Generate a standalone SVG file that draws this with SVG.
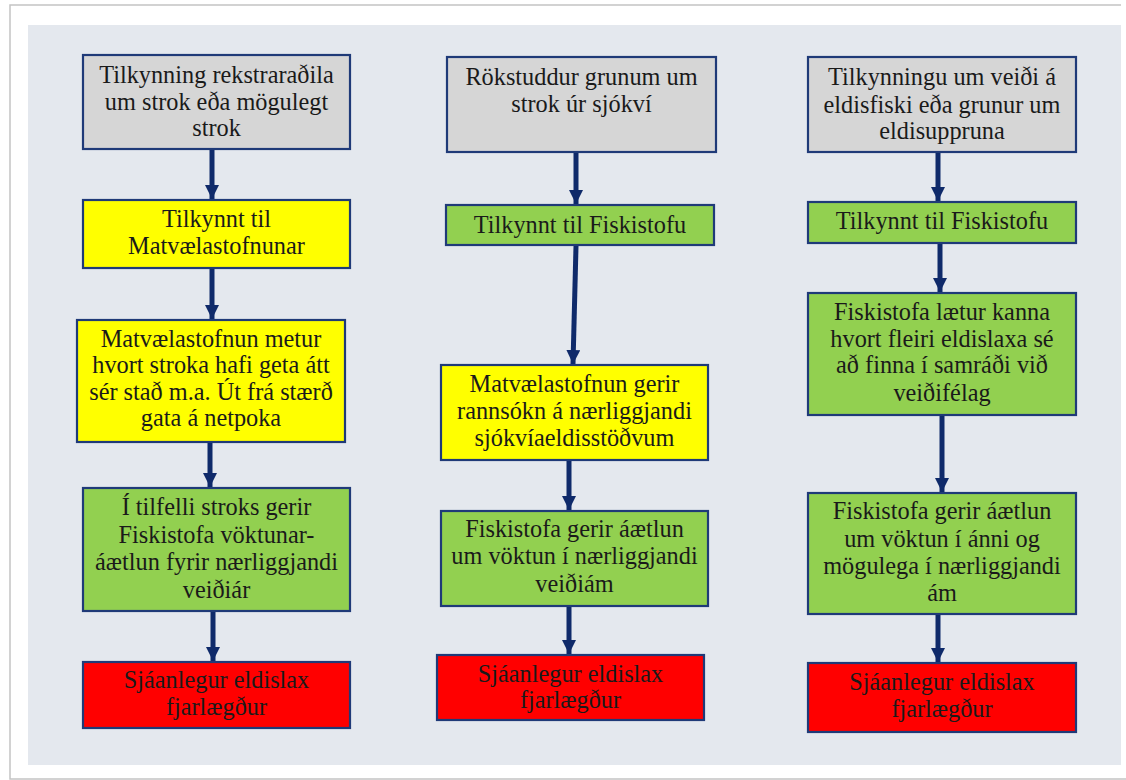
<svg xmlns="http://www.w3.org/2000/svg" width="1126" height="780" viewBox="0 0 1126 780">
<style>
.box{stroke:#1f3a78;stroke-width:2.2}
.gray{fill:#d6d6d6}
.yel{fill:#ffff00}
.grn{fill:#92d050}
.red{fill:#ff0000}
text{font-family:"Liberation Serif","Times New Roman",serif;font-size:24.3px;fill:#1a1a1a;text-anchor:middle}
.conn line{stroke:#0f2a6a;stroke-width:5;marker-end:url(#ah)}
</style>
<defs>
<marker id="ah" markerUnits="userSpaceOnUse" markerWidth="16" markerHeight="14" refX="14" refY="7" orient="auto">
<path d="M0,0 L14,7 L0,14 Z" fill="#0f2a6a"/>
</marker>
</defs>
<rect x="0" y="0" width="1126" height="780" fill="#ffffff"/>
<path d="M1121,5 L10,5 L10,779 L1126,779" fill="none" stroke="#c4c4c4" stroke-width="1.5"/>
<rect x="28" y="25" width="1093" height="740" fill="#e4e8ee"/>

<g id="c1b1"><rect class="box gray" x="83" y="55" width="267" height="94"/>
<text x="216.5" y="83">Tilkynning rekstraraðila</text><text x="216.5" y="110">um strok eða mögulegt</text><text x="216.5" y="136">strok</text></g>
<g id="c1b2"><rect class="box yel" x="83" y="200" width="267" height="68"/>
<text x="216.5" y="227">Tilkynnt til</text><text x="216.5" y="254">Matvælastofnunar</text></g>
<g id="c1b3"><rect class="box yel" x="77" y="320" width="268" height="122"/>
<text x="211" y="347">Matvælastofnun metur</text><text x="211" y="373">hvort stroka hafi geta átt</text><text x="211" y="400">sér stað m.a. Út frá stærð</text><text x="211" y="426">gata á netpoka</text></g>
<g id="c1b4"><rect class="box grn" x="83" y="488" width="267" height="123"/>
<text x="216.5" y="515">Í tilfelli stroks gerir</text><text x="216.5" y="543">Fiskistofa vöktunar-</text><text x="216.5" y="570">áætlun fyrir nærliggjandi</text><text x="216.5" y="598">veiðiár</text></g>
<g id="c1b5"><rect class="box red" x="83" y="662" width="267" height="66"/>
<text x="216.5" y="688">Sjáanlegur eldislax</text><text x="216.5" y="715">fjarlægður</text></g>

<g id="c2b1"><rect class="box gray" x="447" y="57" width="269" height="95"/>
<text x="581.5" y="85">Rökstuddur grunum um</text><text x="581.5" y="112">strok úr sjókví</text></g>
<g id="c2b2"><rect class="box grn" x="446" y="205" width="268" height="40"/>
<text x="580" y="233">Tilkynnt til Fiskistofu</text></g>
<g id="c2b3"><rect class="box yel" x="441" y="365" width="267" height="95"/>
<text x="574.5" y="392">Matvælastofnun gerir</text><text x="574.5" y="419">rannsókn á nærliggjandi</text><text x="574.5" y="446">sjókvíaeldisstöðvum</text></g>
<g id="c2b4"><rect class="box grn" x="441" y="511" width="267" height="95"/>
<text x="574.5" y="537">Fiskistofa gerir áætlun</text><text x="574.5" y="564">um vöktun í nærliggjandi</text><text x="574.5" y="592">veiðiám</text></g>
<g id="c2b5"><rect class="box red" x="437" y="655" width="267" height="65"/>
<text x="570.5" y="682">Sjáanlegur eldislax</text><text x="570.5" y="708">fjarlægður</text></g>

<g id="c3b1"><rect class="box gray" x="808" y="57" width="268" height="95"/>
<text x="942" y="85">Tilkynningu um veiði á</text><text x="942" y="113">eldisfiski eða grunur um</text><text x="942" y="139">eldisuppruna</text></g>
<g id="c3b2"><rect class="box grn" x="808" y="202" width="268" height="41"/>
<text x="942" y="229">Tilkynnt til Fiskistofu</text></g>
<g id="c3b3"><rect class="box grn" x="808" y="293" width="268" height="122"/>
<text x="942" y="320">Fiskistofa lætur kanna</text><text x="942" y="347">hvort fleiri eldislaxa sé</text><text x="942" y="373">að finna í samráði við</text><text x="942" y="401">veiðifélag</text></g>
<g id="c3b4"><rect class="box grn" x="808" y="493" width="268" height="121"/>
<text x="942" y="519">Fiskistofa gerir áætlun</text><text x="942" y="547">um vöktun í ánni og</text><text x="942" y="574">mögulega í nærliggjandi</text><text x="942" y="601">ám</text></g>
<g id="c3b5"><rect class="box red" x="808" y="663" width="268" height="69"/>
<text x="942" y="690">Sjáanlegur eldislax</text><text x="942" y="717">fjarlægður</text></g>

<g id="connectors" class="conn">
<line x1="212" y1="150" x2="212" y2="199"/>
<line x1="212" y1="269" x2="212" y2="319"/>
<line x1="210" y1="443" x2="210" y2="487"/>
<line x1="213" y1="612" x2="213" y2="661"/>
<line x1="576" y1="153" x2="576" y2="204"/>
<line x1="576" y1="246" x2="573" y2="364"/>
<line x1="569" y1="461" x2="569" y2="510"/>
<line x1="569" y1="607" x2="569" y2="654"/>
<line x1="938" y1="153" x2="938" y2="201"/>
<line x1="940" y1="244" x2="940" y2="292"/>
<line x1="942" y1="416" x2="942" y2="492"/>
<line x1="938" y1="615" x2="938" y2="662"/>
</g>
</svg>
